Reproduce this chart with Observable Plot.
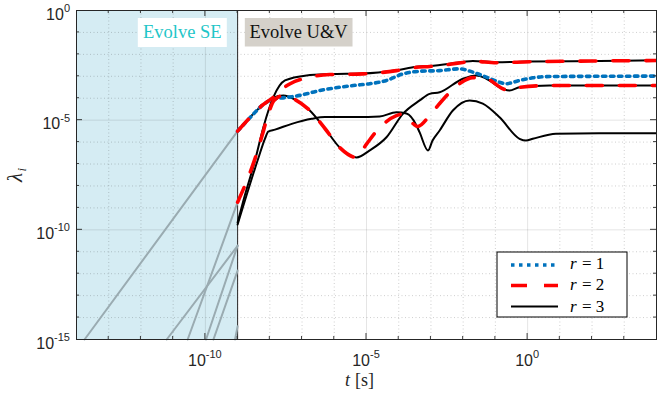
<!DOCTYPE html>
<html><head><meta charset="utf-8">
<script src="https://cdn.jsdelivr.net/npm/d3@7"></script>
<script src="https://cdn.jsdelivr.net/npm/@observablehq/plot@0.6"></script>
<style>
body{margin:0;background:#fff;}
#chart{width:657px;height:399px;}
</style></head><body><div id="chart"></div>
<script>
// ---- axis / tick data (log10 decades) ----
const xDomain = [1e-14, 1e4];
const yDomain = [1e-15, 1];
const xLabelDecades = [-10, -5, 0];
const yLabelDecades = [0, -5, -10, -15];
const xTickDecades = [-13,-12,-11,-10,-9,-8,-7,-6,-5,-4,-3,-2,-1,0,1,2,3];
const yTickDecades = [-14,-13,-12,-11,-10,-9,-8,-7,-6,-5,-4,-3,-2,-1];
const xMinorGrid = [-13,-12,-11,-9,-8,-7,-6,-4,-3,-2,-1,1,2,3];
const yMinorGrid = [-14,-13,-12,-11,-9,-8,-7,-6,-4,-3,-2,-1];
const xMajorGrid = [-10,-5,0];
const yMajorGrid = [-10,-5];
const seSwitchTime = 1e-9;
const seRegion = [{t0: 1e-14, t1: 1e-9, l0: 1e-15, l1: 1}];

// ---- "Evolve SE" phase (gray straight lines), log10 t / log10 lambda ----
const seLogT = [[-13.75,-9],[-11.2,-9],[-10.55,-9],[-9.98,-9],[-9.75,-9],[-9.08,-9]];
const seLogL = [[-15,-5.5],[-15,-10.73],[-15,-8.74],[-15,-10.72],[-15,-11.86],[-15,-14.4]];

// ---- r = 1 (blue dotted) ----
const r1LogT = [-9,-8.61,-8.24,-7.89,-7.53,-7.17,-6.45,-5.41,-4.90,-4.38,-3.87,-3.35,-2.73,-2.11,-1.70,-1.28,-0.87,-0.67,-0.25,0.16,0.68,2.22,4];
const r1LogL = [-5.5,-4.88,-4.33,-4.04,-3.97,-3.90,-3.65,-3.42,-3.34,-3.19,-2.89,-2.77,-2.74,-2.66,-2.81,-3.04,-3.27,-3.34,-3.19,-3.07,-3.01,-3.00,-2.99];

// ---- r = 2 (red dashed), two values ----
const r2aLogT = [-9,-8.61,-8.24,-7.89,-7.68,-7.37,-6.76,-6.14,-5.11,-4.07,-3.45,-3.04,-2.01,-1.70,-0.97,0.06,2.22,4];
const r2aLogL = [-5.5,-4.87,-4.33,-3.95,-3.65,-3.34,-3.04,-2.92,-2.89,-2.74,-2.59,-2.55,-2.37,-2.31,-2.38,-2.34,-2.30,-2.28];
const r2bLogT = [-9,-8.71,-8.46,-8.24,-8.06,-7.87,-7.58,-7.22,-6.76,-6.29,-5.83,-5.31,-5.00,-4.59,-4.07,-3.88,-3.56,-3.41,-3.04,-2.73,-2.42,-2.06,-1.70,-1.28,-0.77,-0.56,-0.25,0.68,4];
const r2bLogL = [-8.74,-7.75,-6.75,-5.70,-4.79,-4.10,-3.88,-4.06,-4.56,-5.38,-6.25,-6.70,-6.09,-5.34,-4.79,-4.72,-5.15,-5.29,-4.79,-4.24,-3.74,-3.28,-3.06,-3.11,-3.57,-3.65,-3.50,-3.42,-3.42];

// ---- r = 3 (black solid), three values ----
const r3aLogT = [-9,-8.82,-8.46,-8.20,-7.89,-7.53,-6.86,-6.14,-5.11,-4.07,-3.45,-3.04,-2.01,-1.70,-0.97,0.06,2.22,4];
const r3aLogL = [-9.67,-8.66,-6.84,-5.32,-3.95,-3.19,-2.96,-2.90,-2.87,-2.72,-2.57,-2.53,-2.35,-2.30,-2.36,-2.33,-2.30,-2.27];
const r3bLogT = [-9,-8.61,-8.24,-7.89,-7.58,-7.22,-6.76,-6.29,-5.83,-5.31,-4.90,-4.38,-3.87,-3.35,-3.04,-2.73,-2.01,-1.59,-1.28,-0.77,-0.56,-0.25,0.68,4];
const r3bLogL = [-5.5,-4.86,-4.33,-3.97,-3.88,-4.06,-4.56,-5.38,-6.25,-6.70,-6.38,-5.78,-4.71,-4.10,-3.80,-3.73,-3.11,-2.96,-3.11,-3.57,-3.65,-3.50,-3.42,-3.42];
const r3cLogT = [-9,-8.36,-8.15,-8.05,-7.84,-7.32,-6.70,-6.29,-5.31,-4.59,-4.07,-3.76,-3.45,-3.35,-3.09,-2.95,-2.73,-2.32,-1.80,-1.39,-0.87,-0.25,-0.05,0.16,0.88,2.22,4];
const r3cLogL = [-9.76,-6.75,-5.84,-5.52,-5.43,-5.17,-4.94,-4.86,-4.86,-4.83,-4.64,-4.70,-5.24,-5.56,-6.38,-5.93,-5.47,-4.56,-4.10,-4.25,-4.87,-5.85,-5.93,-5.85,-5.62,-5.60,-5.60];

// ---- build tables ----
function rows(id, lt, ll) { return lt.map((v, i) => ({id, t: 10 ** v, l: 10 ** ll[i]})); }
const grayRows = seLogT.flatMap((lt, k) => rows("se" + k, lt, seLogL[k]));
const blueRows = rows("r1", r1LogT, r1LogL);
const redRows = [...rows("r2a", r2aLogT, r2aLogL), ...rows("r2b", r2bLogT, r2bLogL)];
const blackRows = [...rows("r3a", r3aLogT, r3aLogL), ...rows("r3b", r3bLogT, r3bLogL), ...rows("r3c", r3cLogT, r3cLogL)];

const BLUE = "#0072BD", RED = "#FF0000", BLACK = "#000000", GRAY = "#9aabb1";
const blueDash = "3.5,4.5", redDash = "16,17";

const chart = Plot.plot({
  width: 657, height: 399,
  marginLeft: 76, marginRight: 1, marginTop: 10, marginBottom: 60,
  x: {type: "log", domain: xDomain, axis: null},
  y: {type: "log", domain: yDomain, axis: null},
  marks: [
    Plot.rect(seRegion, {x1: "t0", x2: "t1", y1: "l0", y2: "l1", fill: "#d5ecf3"}),
    Plot.ruleX(xMinorGrid.map(e => 10 ** e), {stroke: "#262626", strokeOpacity: 0.22, strokeDasharray: "1,2.5"}),
    Plot.ruleY(yMinorGrid.map(e => 10 ** e), {stroke: "#262626", strokeOpacity: 0.22, strokeDasharray: "1,2.5"}),
    Plot.ruleX(xMajorGrid.map(e => 10 ** e), {stroke: "#262626", strokeOpacity: 0.12}),
    Plot.ruleY(yMajorGrid.map(e => 10 ** e), {stroke: "#262626", strokeOpacity: 0.12}),
    Plot.ruleX([seSwitchTime], {stroke: "#262626", strokeWidth: 1}),
    Plot.line(grayRows, {x: "t", y: "l", z: "id", stroke: GRAY, strokeWidth: 2}),
    Plot.line(blackRows, {x: "t", y: "l", z: "id", stroke: BLACK, strokeWidth: 2, curve: "monotone-x"}),
    Plot.line(blueRows, {x: "t", y: "l", z: "id", stroke: BLUE, strokeWidth: 3.6, strokeDasharray: blueDash, curve: "monotone-x"}),
    Plot.line(redRows, {x: "t", y: "l", z: "id", stroke: RED, strokeWidth: 3.6, strokeDasharray: redDash, curve: "monotone-x"}),
    Plot.frame({stroke: "#262626", strokeWidth: 1})
  ]
});
document.getElementById("chart").appendChild(chart);

// ---- decorations drawn with the chart's own scales ----
const sx = chart.scale("x"), sy = chart.scale("y");
const X = v => sx.apply(v), Y = v => sy.apply(v);
const svg = d3.select(chart);
const pLeft = X(xDomain[0]), pRight = X(xDomain[1]), pTop = Y(yDomain[1]), pBottom = Y(yDomain[0]);
const SANS = "'Liberation Sans', Arial, Helvetica, sans-serif";
const SERIF = "'Liberation Serif', 'Times New Roman', serif";

function txt(parent, family, x, y, size, anchor, italic) {
  const t = parent.append("text").attr("font-family", family).style("font-family", family)
    .attr("x", x).attr("y", y).attr("font-size", size).attr("text-anchor", anchor).attr("fill", "#262626");
  if (italic) t.attr("font-style", "italic");
  return t;
}

// inward ticks on all four sides
const tg = svg.append("g").attr("stroke", "#262626").attr("stroke-width", 0.9);
for (const e of xTickDecades) {
  const px = X(10 ** e), L = xLabelDecades.includes(e) ? 6 : 3;
  tg.append("line").attr("x1", px).attr("x2", px).attr("y1", pBottom).attr("y2", pBottom - L);
  tg.append("line").attr("x1", px).attr("x2", px).attr("y1", pTop).attr("y2", pTop + L);
}
for (const e of yTickDecades) {
  const py = Y(10 ** e), L = yLabelDecades.includes(e) ? 6 : 3;
  tg.append("line").attr("x1", pLeft).attr("x2", pLeft + L).attr("y1", py).attr("y2", py);
  tg.append("line").attr("x1", pRight).attr("x2", pRight - L).attr("y1", py).attr("y2", py);
}

function pow10(xp, yp, e, anchor) {
  const t = txt(svg, SANS, xp, yp, 16, anchor, false);
  t.append("tspan").text("10");
  t.append("tspan").attr("dy", -7.6).attr("font-size", 11).text(String(e));
}
for (const e of xLabelDecades) pow10(X(10 ** e), pBottom + 26.5, e, "middle");
for (const e of yLabelDecades) pow10(pLeft - 6, Y(10 ** e) + 9.5, e, "end");

// axis titles (separate text pieces)
const xc = (pLeft + pRight) / 2 - 7;
txt(svg, SERIF, xc - 14, 385.5, 18, "start", true).text("t");
txt(svg, SERIF, xc - 4, 385.5, 18, "start", false).text("[s]");
const yg = svg.append("g").attr("transform", `translate(22,${(pTop + pBottom) / 2}) rotate(-90)`);
txt(yg, SERIF, -3, 0, 21, "middle", true).text("λ");
txt(yg, SERIF, 3, 4, 13, "start", true).text("i");

// phase annotations
const bx = X(seSwitchTime);
svg.append("rect").attr("x", bx - 99.3).attr("y", pTop + 8).attr("width", 89).attr("height", 29).attr("fill", "#ffffff");
txt(svg, SERIF, bx - 54.8, pTop + 27.5, 18.5, "middle", false).attr("fill", "#1fc6c8").text("Evolve SE");
svg.append("rect").attr("x", bx + 7.7).attr("y", pTop + 8).attr("width", 107.7).attr("height", 28.5).attr("fill", "#d5d1ca");
txt(svg, SERIF, bx + 61.5, pTop + 27.5, 18.5, "middle", false).attr("fill", "#111").text("Evolve U&V");

// legend
const legendItems = [
  {label: "1", stroke: BLUE, width: 3.6, dash: blueDash},
  {label: "2", stroke: RED, width: 3.6, dash: redDash},
  {label: "3", stroke: BLACK, width: 2, dash: null}
];
const lg = svg.append("g");
lg.append("rect").attr("x", 497).attr("y", 252).attr("width", 130).attr("height", 65)
  .attr("fill", "#fff").attr("stroke", "#000").attr("stroke-width", 1);
const rowY = [265, 285.5, 306.5];
legendItems.forEach((d, i) => {
  const ln = lg.append("line").attr("x1", 511).attr("x2", 558).attr("y1", rowY[i]).attr("y2", rowY[i])
    .attr("stroke", d.stroke).attr("stroke-width", d.width);
  if (d.dash) ln.attr("stroke-dasharray", d.dash);
  const by = rowY[i] + 4 + (i === 2 ? 1 : 0);
  txt(lg, SERIF, 570, by, 17, "start", true).attr("fill", "#000").text("r");
  txt(lg, SERIF, 582, by, 17, "start", false).attr("fill", "#000").text("= " + d.label);
});
</script>
</body></html>
